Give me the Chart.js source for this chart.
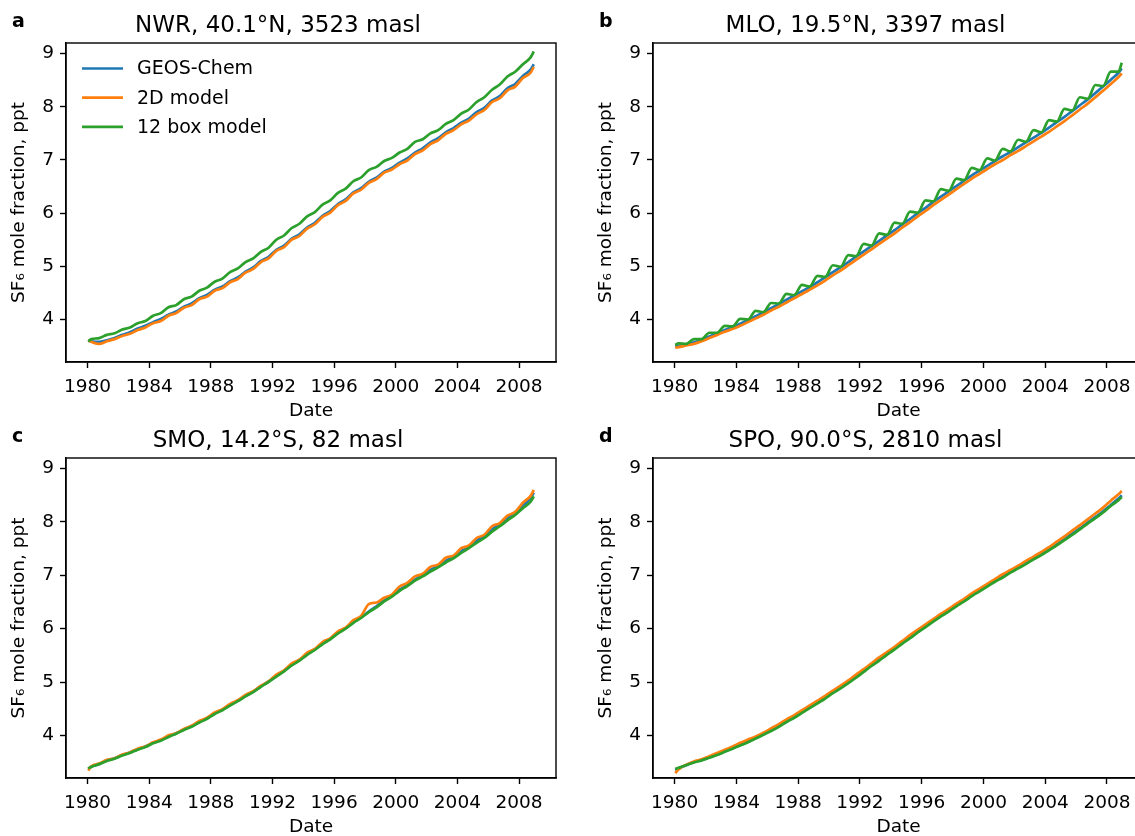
<!DOCTYPE html>
<html>
<head>
<meta charset="utf-8">
<script src="https://cdn.jsdelivr.net/npm/chart.js@4.4.1/dist/chart.umd.min.js"></script>
<style>
  body { margin: 0; background: #fff; overflow: hidden; width: 1135px; height: 836px; position: relative; }
  canvas { position: absolute; }
</style>
</head>
<body>
<canvas id="nwr" width="566" height="422" style="left:0px;top:0px"></canvas>
<canvas id="mlo" width="567" height="422" style="left:587px;top:0px"></canvas>
<canvas id="smo" width="566" height="423" style="left:0px;top:415px"></canvas>
<canvas id="spo" width="567" height="423" style="left:587px;top:415px"></canvas>
<script>
// sample dates (decimal years)
const dates = [1980.04,
    1980.25, 1980.75, 1981.25, 1981.75, 1982.25, 1982.75, 1983.25, 1983.75, 1984.25, 1984.75,
    1985.25, 1985.75, 1986.25, 1986.75, 1987.25, 1987.75, 1988.25, 1988.75, 1989.25, 1989.75,
    1990.25, 1990.75, 1991.25, 1991.75, 1992.25, 1992.75, 1993.25, 1993.75, 1994.25, 1994.75,
    1995.25, 1995.75, 1996.25, 1996.75, 1997.25, 1997.75, 1998.25, 1998.75, 1999.25, 1999.75,
    2000.25, 2000.75, 2001.25, 2001.75, 2002.25, 2002.75, 2003.25, 2003.75, 2004.25, 2004.75,
    2005.25, 2005.75, 2006.25, 2006.75, 2007.25, 2007.75, 2008.25, 2008.75, 2008.96];

const xTicks = [1980, 1984, 1988, 1992, 1996, 2000, 2004, 2008];
const yTicks = [4, 5, 6, 7, 8, 9];
const seriesNames = ["GEOS-Chem", "2D model", "12 box model"];
const seriesColors = ["#1f77b4", "#ff7f0e", "#2ca02c"];

// NWR, 40.1N
const nwrGeos = [3.60, 3.59, 3.58, 3.61, 3.65, 3.71, 3.76, 3.83, 3.88, 3.95, 4.01, 4.09, 4.15, 4.24, 4.30,
    4.40, 4.46, 4.56, 4.62, 4.72, 4.79, 4.90, 4.98, 5.10, 5.18, 5.31, 5.39, 5.52, 5.60, 5.73, 5.82,
    5.95, 6.04, 6.17, 6.26, 6.39, 6.47, 6.59, 6.67, 6.78, 6.85, 6.95, 7.03, 7.14, 7.22, 7.33, 7.41,
    7.52, 7.60, 7.70, 7.78, 7.90, 7.98, 8.12, 8.20, 8.35, 8.43, 8.58, 8.70, 8.80];
const nwr2d = [3.61, 3.58, 3.54, 3.59, 3.63, 3.69, 3.73, 3.80, 3.85, 3.93, 3.97, 4.07, 4.12, 4.22, 4.27,
    4.38, 4.43, 4.54, 4.59, 4.70, 4.76, 4.88, 4.95, 5.08, 5.15, 5.29, 5.36, 5.50, 5.57, 5.71, 5.79,
    5.93, 6.01, 6.15, 6.23, 6.37, 6.44, 6.57, 6.64, 6.76, 6.82, 6.92, 6.99, 7.11, 7.18, 7.30, 7.37,
    7.49, 7.56, 7.67, 7.74, 7.86, 7.94, 8.09, 8.16, 8.31, 8.38, 8.54, 8.64, 8.75];
const nwrBox = [3.59, 3.63, 3.65, 3.71, 3.74, 3.81, 3.85, 3.93, 3.97, 4.07, 4.12, 4.23, 4.27, 4.38, 4.43,
    4.54, 4.60, 4.71, 4.77, 4.89, 4.96, 5.08, 5.15, 5.27, 5.35, 5.50, 5.58, 5.72, 5.80, 5.94, 6.02,
    6.16, 6.24, 6.38, 6.46, 6.60, 6.67, 6.81, 6.87, 6.98, 7.04, 7.14, 7.21, 7.34, 7.39, 7.50, 7.56,
    7.68, 7.75, 7.87, 7.95, 8.09, 8.18, 8.32, 8.42, 8.57, 8.66, 8.80, 8.93, 9.04];

// MLO, 19.5N
const mloGeos = [3.49, 3.50, 3.53, 3.57, 3.62, 3.68, 3.74, 3.80, 3.86, 3.92, 3.99, 4.06, 4.13, 4.21, 4.29,
    4.37, 4.45, 4.53, 4.61, 4.70, 4.79, 4.89, 4.98, 5.08, 5.18, 5.28, 5.38, 5.48, 5.58, 5.68, 5.79,
    5.89, 6.00, 6.10, 6.21, 6.31, 6.41, 6.51, 6.61, 6.71, 6.80, 6.89, 6.98, 7.07, 7.15, 7.24, 7.33,
    7.42, 7.51, 7.61, 7.71, 7.81, 7.92, 8.03, 8.14, 8.26, 8.38, 8.51, 8.64, 8.72];
const mlo2d = [3.47, 3.48, 3.51, 3.54, 3.59, 3.65, 3.71, 3.77, 3.82, 3.88, 3.95, 4.02, 4.09, 4.17, 4.24,
    4.32, 4.40, 4.48, 4.56, 4.64, 4.73, 4.83, 4.92, 5.02, 5.12, 5.22, 5.32, 5.42, 5.52, 5.62, 5.73,
    5.83, 5.94, 6.04, 6.15, 6.25, 6.35, 6.45, 6.55, 6.65, 6.74, 6.83, 6.92, 7.00, 7.09, 7.17, 7.26,
    7.35, 7.44, 7.53, 7.63, 7.73, 7.84, 7.95, 8.06, 8.18, 8.30, 8.43, 8.56, 8.63];
const mloBox = [3.52, 3.55, 3.54, 3.63, 3.63, 3.75, 3.75, 3.88, 3.87, 4.01, 4.00, 4.16, 4.14, 4.31, 4.30,
    4.48, 4.46, 4.65, 4.62, 4.82, 4.80, 5.02, 4.99, 5.21, 5.19, 5.42, 5.39, 5.62, 5.59, 5.82, 5.80,
    6.03, 6.01, 6.24, 6.22, 6.45, 6.42, 6.65, 6.62, 6.85, 6.81, 7.03, 6.99, 7.21, 7.16, 7.38, 7.34,
    7.56, 7.52, 7.75, 7.72, 7.96, 7.93, 8.18, 8.15, 8.41, 8.39, 8.66, 8.66, 8.83];

// SMO, 14.2S
const smoGeos = [3.37, 3.41, 3.46, 3.53, 3.57, 3.63, 3.68, 3.74, 3.79, 3.86, 3.91, 3.98, 4.04, 4.11, 4.17,
    4.25, 4.32, 4.41, 4.48, 4.57, 4.65, 4.74, 4.82, 4.92, 5.01, 5.12, 5.21, 5.32, 5.41, 5.52, 5.61,
    5.72, 5.81, 5.92, 6.01, 6.12, 6.21, 6.32, 6.42, 6.53, 6.62, 6.73, 6.82, 6.92, 7.00, 7.10, 7.18,
    7.27, 7.35, 7.45, 7.54, 7.65, 7.74, 7.86, 7.96, 8.08, 8.18, 8.31, 8.44, 8.55];
const smo2d = [3.34, 3.42, 3.47, 3.54, 3.57, 3.64, 3.68, 3.75, 3.79, 3.87, 3.92, 4.00, 4.04, 4.12, 4.18,
    4.27, 4.33, 4.43, 4.49, 4.59, 4.66, 4.76, 4.83, 4.93, 5.01, 5.14, 5.22, 5.35, 5.42, 5.55, 5.62,
    5.75, 5.82, 5.95, 6.02, 6.16, 6.24, 6.46, 6.49, 6.58, 6.64, 6.79, 6.86, 6.98, 7.03, 7.16, 7.20,
    7.33, 7.37, 7.51, 7.56, 7.70, 7.76, 7.92, 7.98, 8.12, 8.19, 8.36, 8.49, 8.60];
const smoBox = [3.38, 3.41, 3.46, 3.52, 3.56, 3.62, 3.67, 3.73, 3.78, 3.85, 3.90, 3.97, 4.03, 4.10, 4.16,
    4.24, 4.31, 4.40, 4.47, 4.56, 4.64, 4.73, 4.81, 4.91, 5.00, 5.10, 5.20, 5.31, 5.40, 5.51, 5.60,
    5.71, 5.80, 5.91, 6.00, 6.11, 6.20, 6.31, 6.40, 6.51, 6.60, 6.71, 6.80, 6.90, 6.98, 7.07, 7.15,
    7.24, 7.32, 7.42, 7.51, 7.61, 7.70, 7.82, 7.92, 8.03, 8.13, 8.26, 8.38, 8.48];

// SPO, 90.0S
const spoGeos = [3.35, 3.38, 3.44, 3.50, 3.54, 3.59, 3.64, 3.70, 3.76, 3.82, 3.88, 3.95, 4.02, 4.10, 4.18,
    4.26, 4.35, 4.44, 4.53, 4.62, 4.71, 4.81, 4.90, 5.00, 5.10, 5.21, 5.32, 5.42, 5.53, 5.63, 5.74,
    5.84, 5.95, 6.05, 6.15, 6.25, 6.34, 6.44, 6.53, 6.63, 6.72, 6.81, 6.90, 6.98, 7.07, 7.15, 7.23,
    7.32, 7.40, 7.49, 7.58, 7.68, 7.78, 7.88, 7.99, 8.09, 8.20, 8.32, 8.44, 8.50];
const spo2d = [3.29, 3.36, 3.45, 3.51, 3.55, 3.61, 3.67, 3.73, 3.79, 3.86, 3.92, 3.98, 4.05, 4.13, 4.21,
    4.30, 4.38, 4.47, 4.56, 4.65, 4.74, 4.84, 4.93, 5.03, 5.14, 5.24, 5.35, 5.46, 5.56, 5.66, 5.77,
    5.88, 5.98, 6.08, 6.18, 6.28, 6.37, 6.47, 6.56, 6.66, 6.75, 6.84, 6.93, 7.02, 7.10, 7.18, 7.27,
    7.35, 7.44, 7.53, 7.63, 7.73, 7.84, 7.94, 8.05, 8.16, 8.27, 8.40, 8.52, 8.58];
const spoBox = [3.37, 3.39, 3.44, 3.49, 3.53, 3.58, 3.63, 3.69, 3.75, 3.81, 3.87, 3.94, 4.01, 4.08, 4.16,
    4.25, 4.33, 4.42, 4.51, 4.60, 4.69, 4.79, 4.88, 4.98, 5.08, 5.19, 5.30, 5.40, 5.51, 5.61, 5.72,
    5.82, 5.93, 6.03, 6.13, 6.23, 6.32, 6.42, 6.51, 6.61, 6.70, 6.79, 6.88, 6.96, 7.05, 7.13, 7.21,
    7.30, 7.38, 7.47, 7.56, 7.66, 7.76, 7.86, 7.97, 8.07, 8.18, 8.30, 8.41, 8.47];

Chart.defaults.font.family = "'DejaVu Sans', sans-serif";
Chart.defaults.color = "#000";

const fontTick = { size: 18.5 };
const frameWidth = 1.4;

// matplotlib-like box round the axes plus panel letter
const framePlugin = {
    id: "frame",
    afterDraw(chart, args, opts) {
        const { ctx, chartArea: a } = chart;
        ctx.save();
        ctx.strokeStyle = "#000";
        ctx.lineWidth = frameWidth;
        ctx.strokeRect(a.left, a.top, a.right - a.left, a.bottom - a.top);
        ctx.font = "bold 19px 'DejaVu Sans'";
        ctx.fillStyle = "#000";
        ctx.textBaseline = "alphabetic";
        ctx.fillText(opts.letter, 12, 27);
        ctx.restore();
    }
};

const legendPlugin = {
    id: "boxLegend",
    afterDraw(chart, args, opts) {
        if (!opts.show) return;
        const { ctx, chartArea: a } = chart;
        ctx.save();
        ctx.font = "19px 'DejaVu Sans'";
        ctx.textBaseline = "middle";
        chart.data.datasets.forEach((ds, i) => {
            const y = a.top + 25.5 + i * 29.2;
            ctx.strokeStyle = ds.borderColor;
            ctx.lineWidth = 2.7;
            ctx.beginPath();
            ctx.moveTo(a.left + 16, y);
            ctx.lineTo(a.left + 57, y);
            ctx.stroke();
            ctx.fillStyle = "#000";
            ctx.fillText(ds.label, a.left + 71, y + 1);
        });
        ctx.restore();
    }
};

function drawPanel(id, letter, title, geos, twoD, box, showLegend) {
    const lists = [geos, twoD, box];
    const datasets = lists.map((vals, k) => ({
        label: seriesNames[k],
        data: dates.map((d, i) => ({ x: d, y: vals[i] })),
        borderColor: seriesColors[k],
        backgroundColor: seriesColors[k],
        borderWidth: 2.7,
        pointRadius: 0,
        cubicInterpolationMode: "monotone",
        fill: false,
        order: 3 - k,  // later series on top, like matplotlib
    }));
    new Chart(document.getElementById(id), {
        type: "line",
        data: { datasets: datasets },
        plugins: [framePlugin, legendPlugin],
        options: {
            responsive: false,
            animation: false,
            layout: { padding: { left: 0, right: 10, top: 0, bottom: 0 } },
            plugins: {
                legend: { display: false },
                tooltip: { enabled: false },
                title: { display: true, text: title, color: "#000",
                    font: { size: 23, weight: "normal" }, padding: { top: 12, bottom: 3.4 } },
                frame: { letter: letter },
                boxLegend: { show: showLegend },
            },
            scales: {
                x: {
                    type: "linear", min: 1978.6, max: 2010.4,
                    afterBuildTicks: s => { s.ticks = xTicks.map(v => ({ value: v })); },
                    afterFit: s => { s.height = 60; },
                    ticks: { font: fontTick, color: "#000", padding: 8, maxRotation: 0, callback: v => String(v) },
                    grid: { drawOnChartArea: false, tickLength: 6, tickWidth: frameWidth, tickColor: "#000" },
                    border: { color: "#000", width: frameWidth },
                    title: { display: true, text: "Date", font: { size: 18.5 }, color: "#000", padding: { top: 0, bottom: 0 } },
                },
                y: {
                    min: 3.2, max: 9.2,
                    afterBuildTicks: s => { s.ticks = yTicks.map(v => ({ value: v })); },
                    afterFit: s => { s.width = 66; },
                    ticks: { font: fontTick, color: "#000", padding: 6, callback: v => String(v) },
                    grid: { drawOnChartArea: false, tickLength: 6, tickWidth: frameWidth, tickColor: "#000" },
                    border: { color: "#000", width: frameWidth },
                    title: { display: true, text: "SF\u2086 mole fraction, ppt", font: { size: 18.5 }, color: "#000", padding: { top: 8, bottom: 0 } },
                },
            },
        },
    });
}

drawPanel("nwr", "a", "NWR, 40.1°N, 3523 masl", nwrGeos, nwr2d, nwrBox, true);
drawPanel("mlo", "b", "MLO, 19.5°N, 3397 masl", mloGeos, mlo2d, mloBox, false);
drawPanel("smo", "c", "SMO, 14.2°S, 82 masl", smoGeos, smo2d, smoBox, false);
drawPanel("spo", "d", "SPO, 90.0°S, 2810 masl", spoGeos, spo2d, spoBox, false);
</script>
</body>
</html>
